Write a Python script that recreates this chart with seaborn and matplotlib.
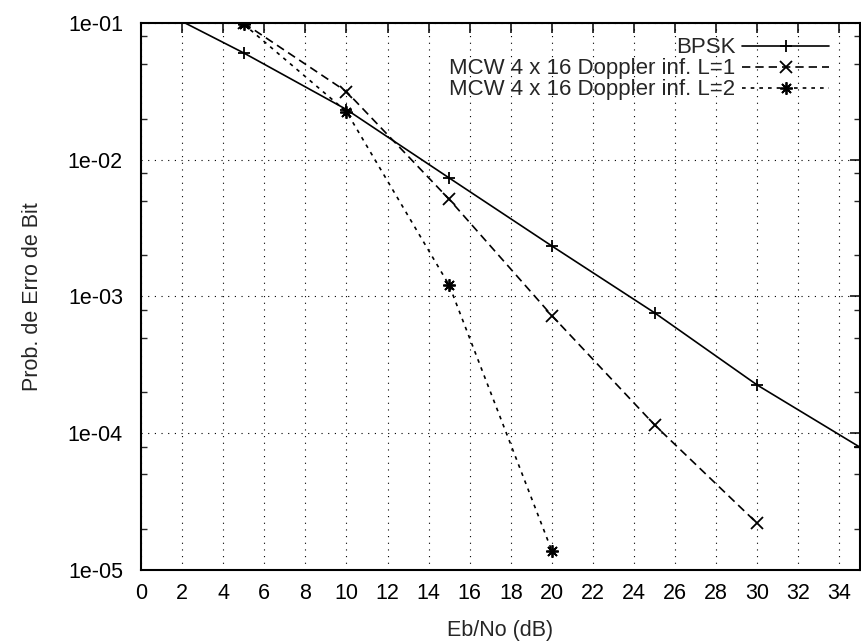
import matplotlib
matplotlib.use("Agg")
import matplotlib.pyplot as plt
import matplotlib.ticker as mticker
import numpy as np
import pandas as pd
import seaborn as sns

# Bit error probability curves (Eb/No in dB)
bpsk_snr = [0, 5, 10, 15, 20, 25, 30, 35]
bpsk_ber = [0.146, 0.0604, 0.0233, 0.00736, 0.00234, 7.6e-4, 2.25e-4, 7.9e-5]

l1_snr = [5, 10, 15, 20, 25, 30]
l1_ber = [0.100, 0.0315, 0.00514, 7.25e-4, 1.15e-4, 2.19e-5]

l2_snr = [5, 10, 15, 20]
l2_ber = [0.098, 0.0225, 0.00121, 1.38e-5]

series_names = ["BPSK",
                "MCW 4 x 16 Doppler inf. L=1",
                "MCW 4 x 16 Doppler inf. L=2"]

x_ticks = list(range(0, 36, 2))
y_ticks = [1e-5, 1e-4, 1e-3, 1e-2, 1e-1]

df = pd.concat([
    pd.DataFrame({"snr": bpsk_snr, "ber": bpsk_ber, "curve": series_names[0]}),
    pd.DataFrame({"snr": l1_snr, "ber": l1_ber, "curve": series_names[1]}),
    pd.DataFrame({"snr": l2_snr, "ber": l2_ber, "curve": series_names[2]}),
], ignore_index=True)

sns.set_theme(style="white")
plt.rcParams["font.family"] = ["Liberation Sans", "DejaVu Sans"]
plt.rcParams["font.size"] = 15.5

FS = 15.5
LEG_FS = 16

fig = plt.figure(figsize=(8.62, 6.44), dpi=100)
ax = fig.add_axes([0.1636, 0.1149, 0.8341, 0.8494])

sns.lineplot(
    data=df, x="snr", y="ber", style="curve", style_order=series_names,
    markers={series_names[0]: "+", series_names[1]: "x", series_names[2]: (8, 2, 0)},
    dashes={series_names[0]: "", series_names[1]: (5, 3), series_names[2]: (2.2, 3)},
    color="black", linewidth=1.2, markersize=9,
    markeredgecolor="black", markeredgewidth=1.3,
    sort=False, legend=False, ax=ax,
)

ax.set_yscale("log")
ax.set_xlim(0, 35)
ax.set_ylim(1e-5, 1e-1)

ax.set_xticks(x_ticks)
ax.set_xticklabels([str(t) for t in x_ticks])
ax.yaxis.set_major_locator(mticker.FixedLocator(y_ticks))
ax.yaxis.set_major_formatter(mticker.FuncFormatter(lambda v, p: f"{v:.0e}"))
ax.yaxis.set_minor_locator(mticker.LogLocator(base=10, subs=(2.0, 5.0, 8.0)))
ax.yaxis.set_minor_formatter(mticker.NullFormatter())

ax.tick_params(axis="both", which="major", direction="in", length=7, width=1.1,
               top=True, right=True, labelsize=FS, colors="black")
ax.tick_params(axis="y", which="minor", direction="in", length=4, width=1.0,
               left=True, right=True)
ax.tick_params(axis="y", which="major", pad=13)
ax.tick_params(axis="x", which="major", pad=9)

ax.grid(True, which="major", color="black", linestyle=(0, (1, 5)), linewidth=0.8)
for sp in ax.spines.values():
    sp.set_color("black")
    sp.set_linewidth(1.5)

ax.set_xlabel("Eb/No (dB)", fontsize=FS, labelpad=12)
ax.set_ylabel("Prob. de Erro de Bit", fontsize=FS, labelpad=18)

lines = ax.get_lines()
for ln, name in zip(lines, series_names):
    ln.set_label(name)
leg = ax.legend(handles=lines[:3], labels=series_names, loc="upper right",
                markerfirst=False, frameon=False, fontsize=LEG_FS, numpoints=1,
                handlelength=3.9, handletextpad=0.3, labelspacing=0.0,
                borderaxespad=0.0, bbox_to_anchor=(0.969, 0.99))

fig.savefig("out.png", dpi=100, facecolor="white")
